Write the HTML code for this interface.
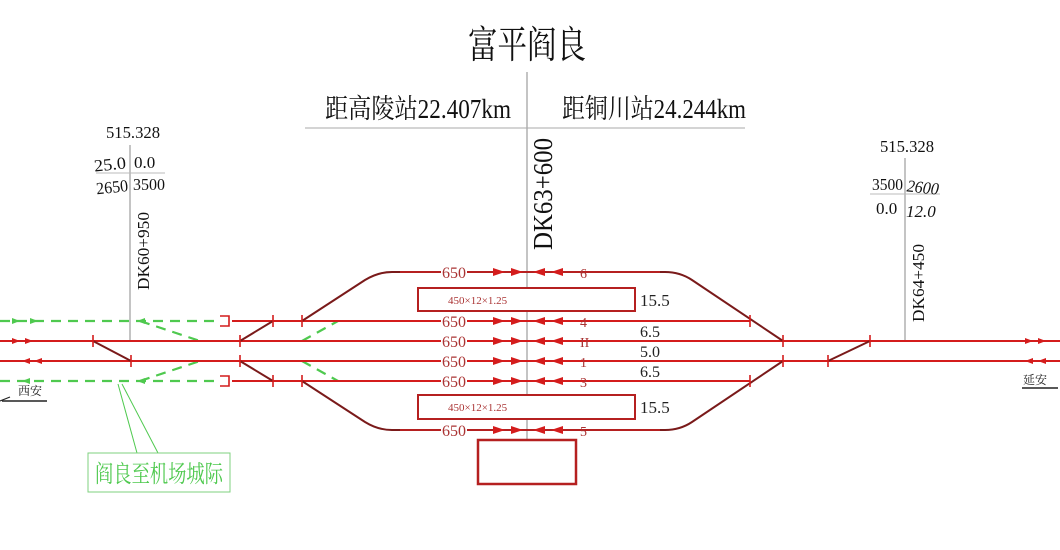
<!DOCTYPE html>
<html><head><meta charset="utf-8"><style>
html,body{margin:0;padding:0;background:#fff;}
svg{display:block;}
text{font-family:"Liberation Serif","Noto Serif CJK SC","Noto Sans CJK SC",serif;}
</style></head><body>
<svg width="1060" height="550" viewBox="0 0 1060 550" xmlns="http://www.w3.org/2000/svg">
<!-- title and headers -->
<text x="527" y="58" font-size="38" text-anchor="middle" textLength="118" lengthAdjust="spacingAndGlyphs" fill="#111">富平阎良</text>
<line x1="527" y1="72" x2="527" y2="440" stroke="#888" stroke-width="1"/>
<line x1="305" y1="128" x2="745" y2="128" stroke="#aaa" stroke-width="1"/>
<text x="325" y="118" font-size="27" textLength="186" lengthAdjust="spacingAndGlyphs" fill="#111">距高陵站22.407km</text>
<text x="562" y="118" font-size="27" textLength="184" lengthAdjust="spacingAndGlyphs" fill="#111">距铜川站24.244km</text>
<text transform="translate(552,250) rotate(-90)" font-size="27" textLength="112" lengthAdjust="spacingAndGlyphs" fill="#111">DK63+600</text>

<!-- left annotation -->
<line x1="130" y1="145" x2="130" y2="341" stroke="#888" stroke-width="1"/>
<text x="106" y="138" font-size="17" fill="#111" textLength="54" lengthAdjust="spacingAndGlyphs">515.328</text>
<line x1="96" y1="173" x2="165" y2="173" stroke="#bbb" stroke-width="1"/>
<text x="94" y="170" font-size="17" fill="#111" textLength="32" lengthAdjust="spacingAndGlyphs" transform="rotate(-6 110 165)">25.0</text>
<text x="134" y="168" font-size="17" fill="#111">0.0</text>
<text x="96" y="193" font-size="17" fill="#111" textLength="32" lengthAdjust="spacingAndGlyphs" transform="rotate(-6 110 186)">2650</text>
<text x="133" y="190" font-size="17" fill="#111" textLength="32" lengthAdjust="spacingAndGlyphs">3500</text>
<text transform="translate(149,290) rotate(-90)" font-size="17" fill="#111" textLength="78" lengthAdjust="spacingAndGlyphs">DK60+950</text>

<!-- right annotation -->
<line x1="905" y1="158" x2="905" y2="341" stroke="#888" stroke-width="1"/>
<text x="880" y="152" font-size="17" fill="#111" textLength="54" lengthAdjust="spacingAndGlyphs">515.328</text>
<line x1="870" y1="194" x2="940" y2="194" stroke="#bbb" stroke-width="1"/>
<text x="872" y="190" font-size="17" fill="#111" textLength="31" lengthAdjust="spacingAndGlyphs">3500</text>
<text x="907" y="193" font-size="17" fill="#111" font-style="italic" textLength="32" lengthAdjust="spacingAndGlyphs" transform="rotate(6 922 186)">2600</text>
<text x="876" y="214" font-size="17" fill="#111">0.0</text>
<text x="906" y="217" font-size="17" fill="#111" font-style="italic">12.0</text>
<text transform="translate(924,322) rotate(-90)" font-size="17" fill="#111" textLength="78" lengthAdjust="spacingAndGlyphs">DK64+450</text>

<!-- green dashed lines -->
<g stroke="#4fc94f" stroke-width="2.2" stroke-dasharray="10,7" fill="none">
<line x1="0" y1="321" x2="220" y2="321"/>
<line x1="0" y1="381" x2="220" y2="381"/>
<line x1="140" y1="321" x2="200" y2="341"/>
<line x1="140" y1="381" x2="200" y2="361"/>
<line x1="302" y1="341" x2="338" y2="321"/>
<line x1="302" y1="361" x2="338" y2="381"/>
</g>
<line x1="118" y1="384" x2="137" y2="453" stroke="#4fc94f" stroke-width="1"/>
<line x1="122" y1="384" x2="158" y2="453" stroke="#4fc94f" stroke-width="1"/>
<rect x="88" y="453" width="142" height="39" fill="#fff" stroke="#7fd17f" stroke-width="1"/>
<text x="159" y="482" font-size="24" fill="#4fc94f" text-anchor="middle" textLength="128" lengthAdjust="spacingAndGlyphs">阎良至机场城际</text>

<!-- red main tracks -->
<g stroke="#d41c1c" stroke-width="2" fill="none">
<line x1="0" y1="341" x2="1060" y2="341"/>
<line x1="0" y1="361" x2="1060" y2="361"/>
<line x1="232" y1="321" x2="750" y2="321"/>
<line x1="232" y1="381" x2="750" y2="381"/>
<path d="M220,316 H229 V326 H220" stroke-width="1.6"/>
<path d="M220,376 H229 V386 H220" stroke-width="1.6"/>
</g>
<g stroke="#7a1a1a" stroke-width="2" fill="none">
<path d="M302,321 L365,280 Q378,272 392,272 L665,272 Q680,272 692,280 L783,341"/>
<path d="M302,381 L365,422 Q378,430 392,430 L665,430 Q680,430 692,422 L783,361"/>
<line x1="240" y1="341" x2="273" y2="321"/>
<line x1="240" y1="361" x2="273" y2="381"/>
<line x1="93" y1="341" x2="131" y2="361"/>
<line x1="828" y1="361" x2="870" y2="341"/>
</g>
<g stroke="#b52020" stroke-width="2">
<line x1="400" y1="272" x2="660" y2="272"/>
<line x1="400" y1="430" x2="660" y2="430"/>
</g>
<g stroke="#d41c1c" stroke-width="1.6">
<line x1="93" y1="335" x2="93" y2="347"/><line x1="131" y1="355" x2="131" y2="367"/>
<line x1="240" y1="335" x2="240" y2="347"/><line x1="240" y1="355" x2="240" y2="367"/>
<line x1="273" y1="315" x2="273" y2="327"/><line x1="273" y1="375" x2="273" y2="387"/>
<line x1="302" y1="315" x2="302" y2="327"/><line x1="302" y1="375" x2="302" y2="387"/>
<line x1="750" y1="315" x2="750" y2="327"/><line x1="750" y1="375" x2="750" y2="387"/>
<line x1="783" y1="335" x2="783" y2="347"/><line x1="783" y1="355" x2="783" y2="367"/>
<line x1="828" y1="355" x2="828" y2="367"/><line x1="870" y1="335" x2="870" y2="347"/>
</g>
<g fill="#fff" stroke="#b52020" stroke-width="2">
<rect x="418" y="288" width="217" height="23"/>
<rect x="418" y="395" width="217" height="24"/>
<rect x="478" y="440" width="98" height="44" stroke-width="2.5"/>
</g>
<text x="448" y="304" font-size="11" fill="#a33">450×12×1.25</text>
<text x="448" y="411" font-size="11" fill="#a33">450×12×1.25</text>
<text x="640" y="306" font-size="17" fill="#222">15.5</text>
<text x="640" y="413" font-size="17" fill="#222">15.5</text>
<text x="640" y="337" font-size="16" fill="#222">6.5</text>
<text x="640" y="357" font-size="16" fill="#222">5.0</text>
<text x="640" y="377" font-size="16" fill="#222">6.5</text>
<g font-size="16" fill="#a33">
<rect x="441" y="264" width="26" height="16" fill="#fff"/><text x="442" y="278">650</text>
<rect x="441" y="313" width="26" height="16" fill="#fff"/><text x="442" y="327">650</text>
<rect x="441" y="333" width="26" height="16" fill="#fff"/><text x="442" y="347">650</text>
<rect x="441" y="353" width="26" height="16" fill="#fff"/><text x="442" y="367">650</text>
<rect x="441" y="373" width="26" height="16" fill="#fff"/><text x="442" y="387">650</text>
<rect x="441" y="422" width="26" height="16" fill="#fff"/><text x="442" y="436">650</text>
</g>
<g font-size="14" fill="#a33">
<text x="580" y="278">6</text><text x="580" y="327">4</text><text x="580" y="347">II</text>
<text x="580" y="367">1</text><text x="580" y="387">3</text><text x="580" y="436">5</text>
</g>
<g fill="#d41c1c">
<g id="arrset">
<path d="M493,268 L505,272 L493,276 z"/><path d="M511,268 L523,272 L511,276 z"/>
<path d="M545,268 L533,272 L545,276 z"/><path d="M563,268 L551,272 L563,276 z"/>
</g>
<use href="#arrset" y="49"/><use href="#arrset" y="69"/><use href="#arrset" y="89"/><use href="#arrset" y="109"/><use href="#arrset" y="158"/>
</g>
<g fill="#d41c1c">
<path d="M12,338 L20,341 L12,344 z"/><path d="M25,338 L33,341 L25,344 z"/>
<path d="M30,358 L22,361 L30,364 z"/><path d="M42,358 L34,361 L42,364 z"/>
<path d="M1025,338 L1033,341 L1025,344 z"/><path d="M1038,338 L1046,341 L1038,344 z"/>
<path d="M1033,358 L1025,361 L1033,364 z"/><path d="M1046,358 L1038,361 L1046,364 z"/>
</g>
<g fill="#4fc94f">
<path d="M12,318 L20,321 L12,324 z"/><path d="M30,318 L38,321 L30,324 z"/>
<path d="M30,378 L22,381 L30,384 z"/><path d="M145,378 L137,381 L145,384 z"/>
<path d="M145,318 L137,321 L145,324 z"/>
</g>
<text x="18" y="395" font-size="12" fill="#222">西安</text>
<line x1="2" y1="401" x2="47" y2="401" stroke="#222" stroke-width="1.5"/>
<path d="M0,401 L10,397" stroke="#222" stroke-width="1.2"/>
<text x="1023" y="384" font-size="12" fill="#222">延安</text>
<line x1="1022" y1="388" x2="1058" y2="388" stroke="#222" stroke-width="1.5"/>
</svg>
</body></html>
